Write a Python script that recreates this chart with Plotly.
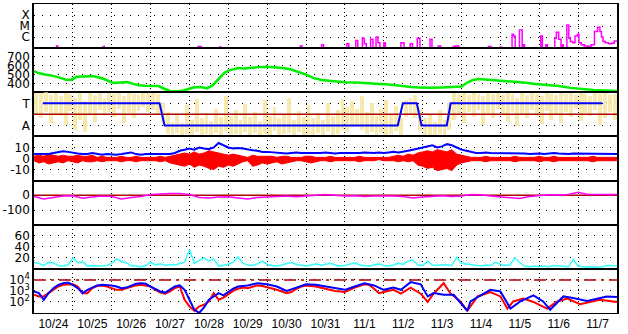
import numpy as np
import plotly.graph_objects as go
from plotly.subplots import make_subplots

# ---------------- data (time in days since 10/24 00:00) ----------------
day_labels = ["10/24", "10/25", "10/26", "10/27", "10/28", "10/29", "10/30", "10/31",
              "11/1", "11/2", "11/3", "11/4", "11/5", "11/6", "11/7"]

# GOES X-ray flux (log10 W/m2)
xr_t = [0, 0.58, 0.61, 1.78, 1.81, 4.22, 4.3, 4.78, 4.81,
        6.85, 6.9, 7.4, 7.45, 8.05, 8.1, 8.28, 8.33,
        8.45, 8.5, 8.55, 8.66, 8.72, 8.8, 8.85, 8.9, 9.0, 9.04,
        9.44, 9.52, 9.68, 9.74, 9.86, 9.93, 10.19, 10.24, 10.4, 10.46,
        10.79, 10.85, 10.93, 11.69, 11.76, 12.0, 12.03,
        12.3, 12.34, 12.38, 12.49, 12.56, 12.58, 12.62,
        13.04, 13.08, 13.17, 13.21, 13.4, 13.44, 13.5, 13.56, 13.58, 13.62,
        13.71, 13.76, 13.8, 13.86, 13.92, 13.98, 14.02, 14.08, 14.16, 14.25, 14.33,
        14.42, 14.5, 14.56, 14.6, 14.64, 14.7, 14.78, 14.86, 14.93, 15.0]
xr_v = [-7.4, -6.8, -7.4, -6.85, -7.4, -6.85, -7.4, -6.9, -7.4,
        -6.8, -7.4, -6.7, -7.4, -6.6, -7.4, -6.3, -7.4,
        -6.1, -6.6, -7.4, -6.2, -7.4, -6.0, -6.5, -7.4, -6.5, -7.4,
        -6.5, -7.4, -6.6, -7.4, -6.1, -7.4, -6.2, -7.4, -6.8, -7.4,
        -6.85, -6.8, -7.4, -6.85, -7.4, -6.9, -7.4,
        -5.75, -5.9, -7.4, -5.36, -7.4, -6.7, -7.4,
        -5.9, -7.4, -6.7, -7.4, -6.1, -5.55, -6.2, -7.4, -6.7, -7.4,
        -4.9, -6.1, -6.4, -6.5, -5.9, -5.75, -6.5, -6.7, -6.8, -6.85, -6.7,
        -5.5, -5.1, -5.5, -6.0, -6.4, -6.5, -6.6, -6.55, -6.35, -6.4]

# solar wind speed (km/s)
sp_t = [0, 0.1, 0.25, 0.4, 0.55, 0.7, 0.8, 0.95, 1.0,
        1.1, 1.3, 1.5, 1.65, 1.8, 1.95, 2.05, 2.2, 2.4, 2.55, 2.7, 2.85, 3.0,
        3.2, 3.35, 3.5, 3.7, 3.85, 3.95, 4.1, 4.3, 4.45, 4.6, 4.7, 4.8, 4.9, 5.0,
        5.1, 5.25, 5.4, 5.6, 5.8, 6.0, 6.2, 6.4, 6.6, 6.8, 7.0,
        7.2, 7.4, 7.6, 7.8, 8.0, 8.3, 8.6, 8.9, 9.2, 9.45, 9.7, 9.9, 10.2, 10.5, 10.8, 11.0,
        11.15, 11.3, 11.45, 11.6, 11.8, 12.0, 12.3, 12.6, 12.9, 13.2, 13.5, 13.8, 14.1, 14.4, 14.7, 15.0]
sp_v = [540, 520, 505, 495, 480, 460, 445, 440, 455,
        475, 480, 485, 470, 450, 420, 405, 410, 415, 395, 380, 375, 375,
        370, 340, 315, 312, 320, 335, 355, 360, 345, 380, 430, 470, 520, 545,
        560, 575, 570, 580, 585, 590, 585, 575, 560, 530, 500,
        460, 440, 430, 420, 415, 410, 405, 395, 385, 370, 360, 355, 350, 355, 358, 365,
        410, 440, 450, 445, 440, 430, 420, 410, 395, 385, 370, 350, 335, 325, 320, 315]

# IMF angle spread (0..4 scale, A=1, T=3), 3-hour bins: low / high
ta_lo = [2.0, 1.6, 2.2, 1.2, 2.0, 1.8, 1.0, 2.3,
         0.6, 1.5, 0.4, 2.0, 1.3, 2.4, 1.9, 2.2,
         1.7, 2.5, 1.2, 2.1, 1.6, 2.3, 2.6, 2.2,
         2.4, 1.9, 1.2, 0.2, 0.1, 0.3, 0.0, 0.2,
         0.1, 0.4, 0.0, 0.2, 0.1, 0.3, 0.0, 0.5,
         0.1, 0.2, 0.0, 0.4, 0.1, 0.3, 0.0, 0.2,
         0.1, 0.5, 0.0, 0.2, 0.3, 0.1, 0.4, 0.0,
         0.2, 0.1, 0.3, 0.0, 0.5, 0.1, 0.2, 0.6,
         0.4, 0.8, 1.0, 0.6, 0.2, 0.4, 0.0, 0.3,
         0.1, 0.2, 0.5, 0.1, 1.7, 1.9, 1.6, 0.5,
         0.0, 0.1, 0.0, 0.2, 0.0, 0.6, 1.5, 2.0,
         1.2, 2.2, 1.7, 2.4, 1.0, 2.1, 1.6, 2.5,
         1.9, 1.3, 2.2, 0.9, 2.0, 1.6, 2.4, 1.8,
         1.1, 2.3, 1.5, 2.0, 1.2, 2.2, 1.7, 2.5,
         1.4, 2.1, 1.8, 2.4, 1.0, 1.6, 2.2, 1.5]
ta_hi = [3.9, 3.9, 4.0, 3.7, 3.9, 3.6, 3.9, 3.8,
         3.5, 3.9, 3.2, 3.9, 3.7, 3.9, 3.5, 3.9,
         3.8, 3.9, 3.6, 3.9, 3.8, 3.7, 3.95, 3.9,
         3.95, 3.8, 3.0, 2.2, 1.3, 1.9, 1.2, 2.8,
         1.5, 3.4, 1.6, 2.1, 1.4, 2.5, 1.7, 3.6,
         1.8, 2.4, 1.5, 2.9, 1.7, 2.2, 1.4, 3.3,
         1.8, 2.6, 1.6, 2.0, 3.5, 1.5, 2.3, 1.7,
         2.8, 1.6, 2.1, 1.5, 3.0, 1.8, 2.4, 3.4,
         2.6, 3.2, 2.5, 3.6, 2.2, 3.0, 1.8, 2.5,
         3.3, 1.9, 2.7, 1.6, 3.3, 3.5, 3.7, 2.5,
         1.6, 2.0, 1.3, 2.4, 1.5, 3.0, 3.9, 3.8,
         3.9, 3.7, 3.9, 3.8, 3.6, 3.9, 3.8, 3.9,
         3.7, 3.9, 3.8, 3.5, 3.9, 3.7, 3.9, 3.8,
         3.6, 3.9, 3.8, 3.7, 3.9, 3.8, 3.9, 3.7,
         3.9, 3.8, 3.6, 3.9, 3.8, 3.9, 3.7, 3.8]

# sector polarity (T=3, A=1)
pol_t = [0.23, 3.23, 3.36, 9.36, 9.49, 9.85, 9.97, 10.62, 10.72, 14.62]
pol_v = [3, 3, 1, 1, 3, 3, 1, 1, 3, 3]

# IMF Bt (nT), 3-hour steps
bt_v = [4, 4, 4.5, 4, 5, 6, 6.5, 6, 5,
        4.5, 4, 4, 5, 4, 3.5, 4, 3.5,
        3.5, 4, 5, 5.5, 4, 3.5, 4, 4,
        4, 4.5, 4, 4, 5, 7, 8, 9,
        8, 10, 9, 8.5, 10, 14, 12, 10,
        9, 9.5, 9, 8, 7.5, 7, 6, 6,
        5.5, 5, 5, 4.5, 5, 5.5, 5, 5,
        4.5, 4.5, 5, 5.5, 5, 4.5, 5, 5,
        5, 4.5, 5, 5.5, 5, 5, 5.5, 5,
        5.5, 6, 5.5, 6, 7, 8, 9, 10,
        11, 12, 10, 11, 13, 12, 10, 8,
        7, 6, 5, 5, 5.5, 5, 5, 5,
        5, 4.5, 4.5, 5, 4.5, 4, 4.5, 4.5,
        4, 4.5, 5, 4.5, 4, 4, 4.5, 4.5,
        4, 4, 4.5, 4.5, 4, 4, 4.5, 4]

# IMF Bz (nT) range in 3-hour steps: low / high
bz_lo = [-2, -4, -3, -5, -4, -3, -4, -2, -3,
         -4, -2, -3, -3, -2, -3, -2, -2,
         -2, -3, -2, -2, -3, -2, -2, -2,
         -2, -3, -2, -4, -5, -6, -7, -5,
         -8, -6, -7, -9, -10, -7, -8, -6,
         -7, -5, -3, -2, -7, -6, -4, -5,
         -4, -3, -5, -4, -3, -2, -2, -3,
         -4, -3, -2, -2, -3, -2, -2, -2,
         -2, -2, -3, -2, -2, -2, -1, -2,
         -2, -2, -3, -2, -3, -2, -6, -7,
         -9, -8, -11, -10, -9, -11, -6, -4,
         -3, -2, -2, -2, -3, -2, -2, -2,
         -2, -2, -3, -2, -2, -2, -2, -3,
         -2, -2, -3, -2, -2, -2, -2, -2,
         -2, -2, -3, -2, -2, -2, -2, -2]
bz_hi = [2, 3, 2, 4, 3, 2, 3, 2, 2,
         3, 2, 2, 3, 1, 2, 1, 1,
         1, 2, 1, 1, 2, 1, 1, 1,
         1, 2, 1, 2, 3, 4, 5, 4,
         6, 4, 5, 7, 6, 5, 4, 3,
         4, 3, 2, 1, 3, 2, 2, 2,
         2, 1, 2, 2, 1, 1, 1, 2,
         2, 1, 1, 1, 2, 1, 1, 1,
         1, 1, 2, 1, 1, 1, 1, 1,
         1, 2, 3, 2, 4, 3, 5, 6,
         7, 6, 8, 7, 6, 8, 4, 3,
         2, 1, 1, 1, 2, 1, 1, 1,
         1, 1, 2, 1, 1, 1, 1, 2,
         1, 1, 2, 1, 1, 1, 1, 1,
         1, 1, 2, 1, 1, 1, 1, 1]

# Dst-like index (nT), 6-hour steps
dst_v = [-8, -25, -15, -5, -3, -20, -12, -5, -8, -25, -15, -8, 5,
         10, 12, 12, 5, -15, -18, -12, -10, -18, -25, -15, -10,
         -8, -5, -10, -5, 0, 5, 0, -5, -3, -8, -5, -3,
         -5, -9, -18, -12, -5, -3, -8, -5, 5, 3, -5, -10,
         -12, -22, -8, 0, 3, 2, 5, 20, 5, 5, 3, 5]

# cyan index, 3-hour steps
cy_v = [12, 10, 6, 12, 11, 6, 5, 7, 20,
        11, 13, 5, 6, 5, 5, 6, 10,
        18, 13, 11, 6, 5, 4, 6, 12,
        7, 9, 6, 8, 7, 10, 12, 35,
        10, 15, 20, 14, 18, 5, 6, 8,
        12, 22, 10, 7, 6, 9, 14, 8,
        6, 5, 7, 10, 12, 8, 6, 5,
        7, 9, 6, 8, 10, 7, 5, 6,
        8, 11, 7, 6, 5, 7, 9, 6,
        5, 7, 10, 8, 14, 16, 7, 6,
        14, 7, 6, 8, 7, 6, 21, 10,
        9, 8, 6, 5, 7, 6, 12, 8,
        6, 7, 20, 11, 5, 4, 5, 4,
        5, 4, 6, 5, 4, 4, 17, 5,
        4, 3, 4, 3, 4, 6, 6, 5]

# electron flux (log10)
ef_red_t = [i * 0.125 for i in range(49)] + \
    [6.25, 6.5, 6.625, 6.75, 6.875, 7.0, 7.25, 7.5, 7.75, 8.0, 8.25, 8.5, 8.625, 8.75, 8.875, 9.0, 9.25,
     9.44, 9.69, 9.95, 10.13, 10.28, 10.54, 10.72, 10.97, 11.15, 11.41, 11.74, 12.0, 12.18, 12.33,
     12.59, 12.85, 13.2, 13.46, 13.72, 14.05, 14.56, 14.9, 15.0]
ef_red_v = [2.65, 2.5, 2.5, 2.8, 3.1, 3.4, 3.55, 3.6, 3.6, 3.4, 2.8, 2.8, 3.25, 3.45, 3.5, 3.4, 3.25,
            3.1, 3.1, 3.25, 3.4, 3.5, 3.55, 3.45, 3.4, 3.1, 2.85, 2.75, 2.95, 3.25, 3.4, 2.2, 1.6,
            1.2, 1.6, 1.75, 2.05, 2.8, 2.2, 2.4, 2.7, 3.0, 3.2, 3.3, 3.25, 3.4, 3.5, 3.45, 3.35,
            3.1, 2.8, 2.9, 3.2, 3.4, 3.5, 3.4, 3.2, 3.0, 2.9, 3.3, 3.6, 3.55, 3.2, 2.8, 2.9, 3.1,
            2.75, 3.3, 2.75, 2.0, 2.75, 3.7, 2.75, 2.05, 1.2, 2.5, 2.9, 2.5, 1.4, 2.05, 2.3, 2.0,
            1.4, 2.05, 2.3, 1.8, 2.2, 2.05, 2.0]
ef_blue_t = [i * 0.125 for i in range(39)] + \
    [4.875, 5.0, 5.125, 5.25, 5.5, 5.75, 6.0, 6.25, 6.5, 6.75, 7.0, 7.25, 7.5, 7.75, 8.0, 8.25, 8.5,
     8.75, 9.0, 9.25,
     9.44, 9.69, 9.95, 10.13, 10.28, 10.54, 10.8, 11.15, 11.23, 11.74, 12.0, 12.26, 12.51, 12.85,
     13.1, 13.28, 13.62, 13.87, 14.23, 14.74, 15.0]
ef_blue_v = [2.95, 2.8, 2.2, 2.8, 3.25, 3.55, 3.7, 3.75, 3.55, 3.25, 2.8, 3.1, 3.3, 3.5, 3.55, 3.55,
             3.5, 3.4, 3.25, 3.3, 3.5, 3.65, 3.7, 3.65, 3.4, 3.15, 2.95, 2.85, 3.1, 3.4, 3.5, 3.1,
             2.2, 1.3, 1.0, 1.5, 2.2, 2.5, 2.8,
             2.6, 2.9, 3.2, 3.4, 3.5, 3.7, 3.6, 3.4, 3.0, 3.3, 3.6, 3.55, 3.4, 3.2, 3.1, 3.4, 3.7,
             3.5, 3.1, 3.3,
             3.1, 3.8, 3.6, 2.5, 2.8, 2.65, 2.65, 1.2, 2.05, 3.1, 2.95, 1.4, 2.05, 2.6, 2.05, 1.3,
             2.5, 2.35, 2.1, 2.5, 2.45]

# ---------------- figure ----------------
t8 = np.arange(len(bt_v)) * 0.125
t8z = np.arange(len(bz_lo)) * 0.125
t8c = np.arange(len(cy_v)) * 0.125
t4 = np.arange(len(dst_v)) * 0.25
tbin = np.arange(len(ta_lo)) * 0.125 + 0.0625

DARKRED = "#B00000"
FONT = "Liberation Sans, Arial, sans-serif"
YFONT = "DejaVu Sans, Liberation Sans, sans-serif"

fig = make_subplots(rows=7, cols=1, shared_xaxes=True, vertical_spacing=0)

# 1 X-ray
fig.add_trace(go.Scatter(x=xr_t, y=xr_v, mode="lines", line=dict(color="#FF00FF", width=1.5, shape="hv")),
              row=1, col=1)
# 2 speed
fig.add_trace(go.Scatter(x=sp_t, y=sp_v, mode="lines", line=dict(color="#00EE00", width=2.5)), row=2, col=1)
# 3 angle / polarity
fig.add_trace(go.Bar(x=tbin, y=np.array(ta_hi) - np.array(ta_lo), base=ta_lo, width=0.1,
                     marker=dict(color="#F7E7A2", line=dict(width=0)), opacity=0.85), row=3, col=1)
fig.add_trace(go.Scatter(x=[0, 15], y=[2, 2], mode="lines", line=dict(color=DARKRED, width=1.5)), row=3, col=1)
fig.add_trace(go.Scatter(x=pol_t, y=pol_v, mode="lines", line=dict(color="#0000FF", width=2)), row=3, col=1)
# 4 Bz / Bt
fig.add_trace(go.Scatter(x=[0, 15], y=[0, 0], mode="lines", line=dict(color=DARKRED, width=1.5)), row=4, col=1)
fig.add_trace(go.Scatter(x=t8z, y=bz_lo, mode="lines", line=dict(color="#FF0000", width=1)), row=4, col=1)
fig.add_trace(go.Scatter(x=t8z, y=bz_hi, mode="lines", line=dict(color="#FF0000", width=1),
                         fill="tonexty", fillcolor="#FF0000"), row=4, col=1)
fig.add_trace(go.Scatter(x=t8, y=bt_v, mode="lines", line=dict(color="#0000FF", width=2)), row=4, col=1)
# 5 Dst
fig.add_trace(go.Scatter(x=[0, 15], y=[0, 0], mode="lines", line=dict(color=DARKRED, width=1.5)), row=5, col=1)
fig.add_trace(go.Scatter(x=t4, y=dst_v, mode="lines", line=dict(color="#FF00FF", width=1.5)), row=5, col=1)
# 6 cyan
fig.add_trace(go.Scatter(x=t8c, y=cy_v, mode="lines", line=dict(color="#33FFFF", width=1.5)), row=6, col=1)
# 7 electron flux
fig.add_trace(go.Scatter(x=[0, 15], y=[4, 4], mode="lines",
                         line=dict(color=DARKRED, width=1.5, dash="12px,5px,3px,5px")), row=7, col=1)
fig.add_trace(go.Scatter(x=ef_red_t, y=ef_red_v, mode="lines", line=dict(color="#FF0000", width=2)), row=7, col=1)
fig.add_trace(go.Scatter(x=ef_blue_t, y=ef_blue_v, mode="lines", line=dict(color="#0000FF", width=2)), row=7, col=1)

fig.update_xaxes(range=[0, 15], showgrid=False, zeroline=False, showline=True, mirror=True,
                 linecolor="black", linewidth=1, ticks="",
                 tickmode="array", tickvals=[i + 0.5 for i in range(15)], ticktext=day_labels,
                 tickfont=dict(family=FONT, size=12, color="black"),
                 minor=dict(tickmode="array", tickvals=list(range(1, 15)), showgrid=True,
                            gridcolor="black", gridwidth=1, griddash="1px,3px", ticks=""))

yspecs = [
    dict(range=[-7, -3], tickvals=[-6, -5, -4], ticktext=["C", "M", "X"]),
    dict(range=[300, 800], tickvals=[400, 500, 600, 700], ticktext=["400", "500", "600", "700"]),
    dict(range=[0, 4], tickvals=[1, 3], ticktext=["A", "T"]),
    dict(range=[-20, 20], tickvals=[-10, 0, 10], ticktext=["-10", "0", "10"]),
    dict(range=[-200, 100], tickvals=[-100, 0], ticktext=["-100", "0"]),
    dict(range=[0, 80], tickvals=[20, 40, 60], ticktext=["20", "40", "60"]),
    dict(range=[1, 5], tickvals=[2, 3, 4], ticktext=["10<sup>2</sup>", "10<sup>3</sup>", "10<sup>4</sup>"]),
]
for i, s in enumerate(yspecs, start=1):
    fig.update_yaxes(row=i, col=1, range=s["range"], tickmode="array", tickvals=s["tickvals"],
                     ticktext=s["ticktext"], showgrid=True, gridcolor="black", gridwidth=1,
                     griddash="1px,7px", zeroline=False, showline=True, mirror=True,
                     linecolor="black", linewidth=1.5, ticks="",
                     tickfont=dict(family=YFONT, size=12, color="black"), fixedrange=True)

fig.update_layout(width=628, height=334, autosize=False, showlegend=False,
                  margin=dict(l=32, r=11, t=3, b=17),
                  paper_bgcolor="white", plot_bgcolor="white", hovermode=False,
                  bargap=0, font=dict(family=FONT, size=12, color="black"))

fig.write_html("out.html", config={"displayModeBar": False})
